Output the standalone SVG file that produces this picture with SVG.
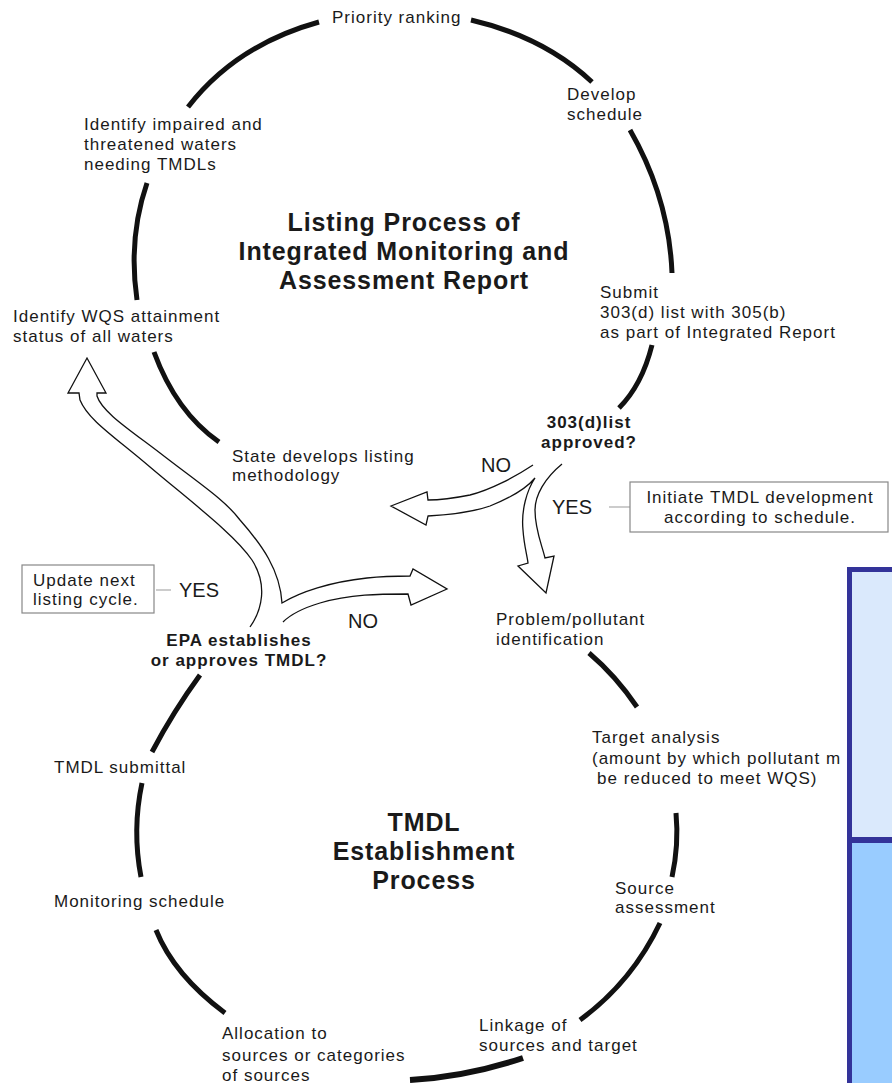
<svg xmlns="http://www.w3.org/2000/svg" width="892" height="1083" viewBox="0 0 892 1083">
<style>
text{font-family:"Liberation Sans",Arial,sans-serif;fill:#1a1a1a}
.t{font-size:17px;letter-spacing:1px}
.b{font-size:17px;font-weight:bold;letter-spacing:1px}
.h{font-size:25px;font-weight:bold;text-anchor:middle;letter-spacing:0.9px}
.yn{font-size:20px}
.c{text-anchor:middle}
.arc{fill:none;stroke:#111;stroke-width:5}
.wa{fill:#fff;stroke:#111;stroke-width:1.3;stroke-linejoin:miter}
.box{fill:#fff;stroke:#888;stroke-width:1.2}
.ln{stroke:#999;stroke-width:1}
</style>
<rect width="892" height="1083" fill="#fff"/>
<g id="connectors">
<path class="arc" d="M188,107 Q236,45 319,22"/>
<path class="arc" d="M471,20 Q544,37 592,82"/>
<path class="arc" d="M630,130 Q669,198 672,273"/>
<path class="arc" d="M147,183 Q128,238 137,300"/>
<path class="arc" d="M652,345 Q642,385 619,408"/>
<path class="arc" d="M154,352 Q176,412 219,442"/>
<path class="arc" d="M589,653 Q616,676 637,707"/>
<path class="arc" d="M200,675 Q173,712 152,752"/>
<path class="arc" d="M142,783 Q132,830 141,877"/>
<path class="arc" d="M676,813 Q679,845 672,877"/>
<path class="arc" d="M156,930 Q174,975 225,1013"/>
<path class="arc" d="M660,923 Q632,982 580,1020"/>
<path class="arc" d="M410,1080 Q466,1077 523,1058" style="stroke-width:6"/>
<path class="wa" d="M250,627 C262,610 268,585 252,560 C235,535 195,505 150,467 C115,437 88,420 80,400 L79,393 L68,393 L87,358 L106,393 L97,393 L97,396 C102,412 130,430 160,453 C200,484 225,500 240,520 C262,545 280,570 282,603 C300,592 330,582 367,578 C385,576 400,576 410,576 L413,569 L447,589 L411,605 L408,594 C380,594 350,594 320,603 C300,609 290,615 283,622"/>
<path class="wa" d="M533,465 C515,477 490,490 470,495 C450,499 435,500 428,500 L427,492 L391,506 L426,525 L428,516 C445,515 470,513 490,506 C510,498 525,490 535,478 C527,490 521,510 523,530 C524,545 527,555 528,563 L518,566 L546,593 L554,556 L545,558 C542,545 535,530 535,510 C535,495 545,478 562,464"/>
<line class="ln" x1="609" y1="507" x2="630" y2="507"/>
<line class="ln" x1="156" y1="590" x2="171" y2="590"/>
</g>
<g id="title1"><text class="h" x="404" y="231">Listing Process of</text><text class="h" x="404" y="260">Integrated Monitoring and</text><text class="h" x="404" y="289">Assessment Report</text></g>
<g id="title2"><text class="h" x="424" y="831">TMDL</text><text class="h" x="424" y="860">Establishment</text><text class="h" x="424" y="889">Process</text></g>
<g id="n-priority"><text class="t" x="332" y="23">Priority ranking</text></g>
<g id="n-develop"><text class="t" x="567" y="100">Develop</text><text class="t" x="567" y="120">schedule</text></g>
<g id="n-impaired"><text class="t" x="84" y="130">Identify impaired and</text><text class="t" x="84" y="150">threatened waters</text><text class="t" x="84" y="170">needing TMDLs</text></g>
<g id="n-submit"><text class="t" x="600" y="298">Submit</text><text class="t" x="600" y="318">303(d) list with 305(b)</text><text class="t" x="600" y="338">as part of Integrated Report</text></g>
<g id="n-wqs"><text class="t" x="13" y="322">Identify WQS attainment</text><text class="t" x="13" y="342">status of all waters</text></g>
<g id="n-approved"><text class="b c" x="589" y="428">303(d)list</text><text class="b c" x="589" y="448">approved?</text></g>
<g id="n-state"><text class="t" x="232" y="462">State develops listing</text><text class="t" x="232" y="481">methodology</text></g>
<g id="l-no1"><text class="yn" x="481" y="472">NO</text></g>
<g id="l-yes1"><text class="yn" x="552" y="514">YES</text></g>
<g id="n-initiate"><rect class="box" x="630" y="482" width="258" height="50"/><text class="t c" x="760" y="503">Initiate TMDL development</text><text class="t c" x="760" y="523">according to schedule.</text></g>
<g id="n-update"><rect class="box" x="22" y="565" width="132" height="48"/><text class="t" x="33" y="586">Update next</text><text class="t" x="33" y="605">listing cycle.</text></g>
<g id="l-yes2"><text class="yn" x="179" y="597">YES</text></g>
<g id="l-no2"><text class="yn" x="348" y="628">NO</text></g>
<g id="n-epa"><text class="b c" x="239" y="646">EPA establishes</text><text class="b c" x="239" y="666">or approves TMDL?</text></g>
<g id="n-problem"><text class="t" x="496" y="625">Problem/pollutant</text><text class="t" x="496" y="645">identification</text></g>
<g id="n-target"><text class="t" x="592" y="743">Target analysis</text><text class="t" x="592" y="764">(amount by which pollutant m</text><text class="t" x="597" y="784">be reduced to meet WQS)</text></g>
<g id="n-submittal"><text class="t" x="54" y="773">TMDL submittal</text></g>
<g id="n-source"><text class="t" x="615" y="894">Source</text><text class="t" x="615" y="913">assessment</text></g>
<g id="n-monitoring"><text class="t" x="54" y="907">Monitoring schedule</text></g>
<g id="n-linkage"><text class="t" x="479" y="1031">Linkage of</text><text class="t" x="479" y="1051">sources and target</text></g>
<g id="n-allocation"><text class="t" x="222" y="1039">Allocation to</text><text class="t" x="222" y="1061">sources or categories</text><text class="t" x="222" y="1081">of sources</text></g>
<g id="panel">
<rect x="847" y="567" width="60" height="530" fill="#333399"/>
<rect x="852" y="572" width="50" height="265" fill="#DAE9FC"/>
<rect x="852" y="843" width="50" height="250" fill="#99CCFF"/>
</g>
</svg>
